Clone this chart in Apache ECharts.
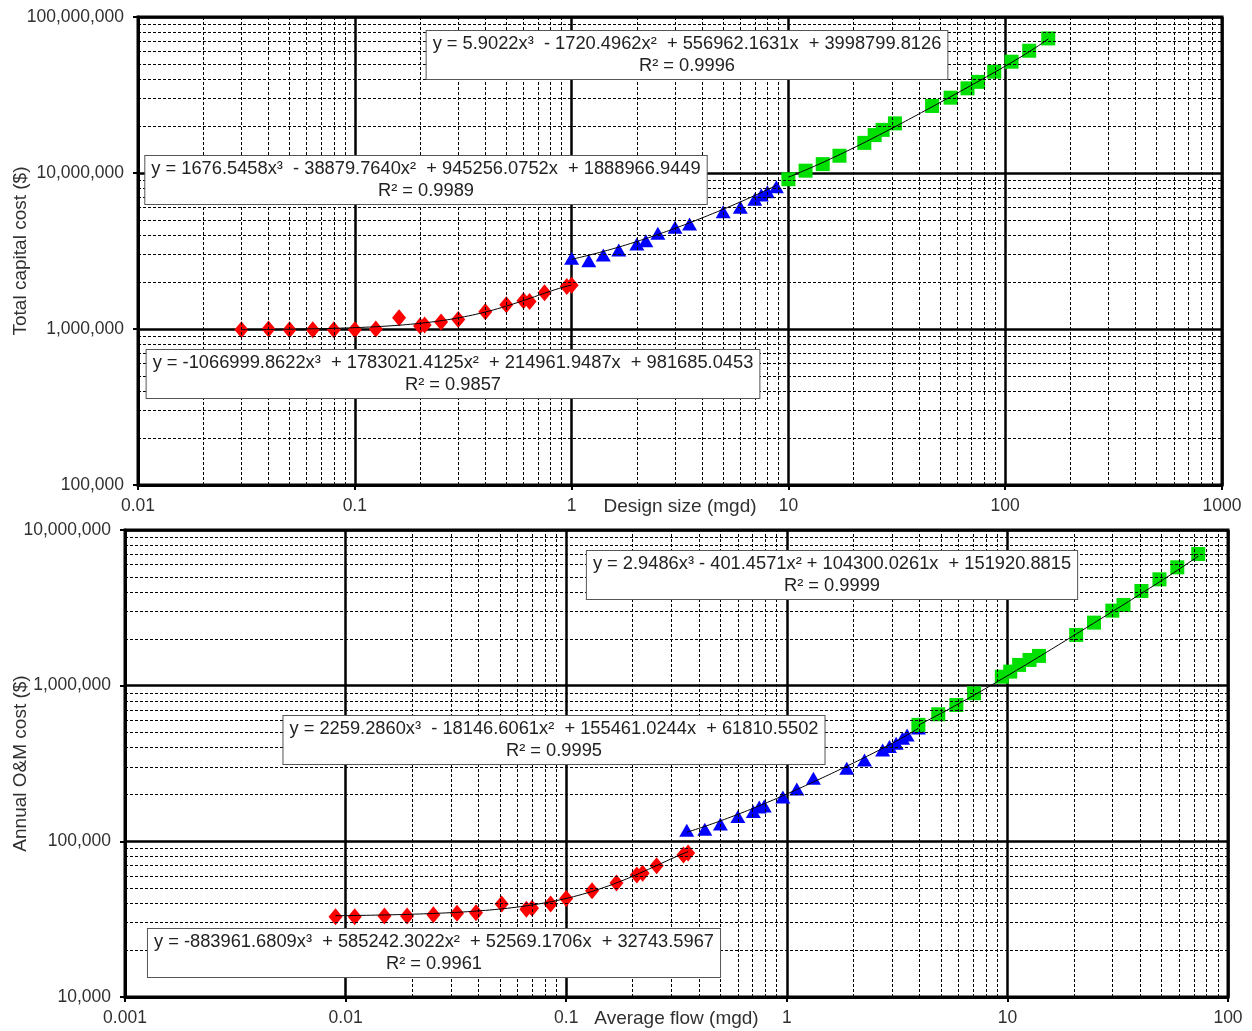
<!DOCTYPE html>
<html>
<head>
<meta charset="utf-8">
<script src="https://cdn.jsdelivr.net/npm/echarts@6/dist/echarts.min.js"></script>
<style>
  html, body { margin: 0; padding: 0; background: #fff; }
  #chart { width: 1252px; height: 1031px; }
</style>
</head>
<body>
<div id="chart"></div>
<script>
// ---- Total capital cost vs design size (mgd) ----
const capRedX = [0.03, 0.04, 0.05, 0.064, 0.08, 0.1, 0.125, 0.16, 0.2, 0.21, 0.25, 0.3, 0.4, 0.5, 0.6, 0.64, 0.75, 0.95, 1.0];
const capRedY = [990000, 1000000, 990000, 990000, 990000, 990000, 1000000, 1180000, 1045000, 1060000, 1110000, 1150000, 1290000, 1430000, 1520000, 1500000, 1710000, 1870000, 1910000];
const capBlueX = [1.0, 1.2, 1.4, 1.65, 2.0, 2.2, 2.5, 3.0, 3.5, 5.0, 6.0, 7.0, 7.5, 8.0, 8.8];
const capBlueY = [2840000, 2740000, 2980000, 3210000, 3510000, 3680000, 4110000, 4490000, 4710000, 5650000, 6030000, 6780000, 7230000, 7590000, 8170000];
const capGreenX = [10, 12, 14.4, 17.2, 22.4, 25, 27.2, 31, 46, 56, 67, 75, 89, 107, 129, 158];
const capGreenY = [9120000, 10350000, 11400000, 12900000, 15600000, 17500000, 18900000, 20800000, 26900000, 30400000, 34900000, 38400000, 44600000, 51700000, 60800000, 72900000];

// cubic trendline coefficients [x^3, x^2, x, const] and R²
const capRedCoef = [-1066999.8622, 1783021.4125, 214961.9487, 981685.0453];
const capBlueCoef = [1676.5458, -38879.7640, 945256.0752, 1888966.9449];
const capGreenCoef = [5.9022, -1720.4962, 556962.1631, 3998799.8126];
const capR2 = ['0.9857', '0.9989', '0.9996'];

// ---- Annual O&M cost vs average flow (mgd) ----
const omRedX = [0.009, 0.011, 0.015, 0.019, 0.025, 0.032, 0.039, 0.051, 0.066, 0.07, 0.085, 0.10, 0.131, 0.169, 0.209, 0.222, 0.257, 0.34, 0.357];
const omRedY = [32800, 32800, 33200, 33200, 33800, 34500, 34800, 39600, 36600, 37200, 39600, 43000, 48100, 54000, 60800, 62400, 69800, 81800, 84000];
const omBlueX = [0.352, 0.425, 0.50, 0.6, 0.705, 0.75, 0.79, 0.96, 1.11, 1.32, 1.87, 2.25, 2.72, 2.92, 3.13, 3.35, 3.51, 3.95];
const omBlueY = [118000, 119700, 129400, 144200, 155300, 166400, 168800, 192800, 217200, 254300, 294900, 333600, 386700, 405900, 426600, 459400, 482300, 534800];
const omGreenX = [3.95, 4.86, 5.87, 7.06, 9.43, 10.3, 11.3, 12.6, 13.9, 20.5, 24.7, 29.9, 33.6, 40.5, 48.9, 58.9, 73.3];
const omGreenY = [560000, 655000, 751000, 894000, 1142000, 1231000, 1359000, 1463000, 1553000, 2118000, 2541000, 3034000, 3300000, 4056000, 4821000, 5758000, 7013000];

const omRedCoef = [-883961.6809, 585242.3022, 52569.1706, 32743.5967];
const omBlueCoef = [2259.2860, -18146.6061, 155461.0244, 61810.5502];
const omGreenCoef = [2.9486, -401.4571, 104300.0261, 151920.8815];
const omR2 = ['0.9961', '0.9995', '0.9999'];

// axis ranges
const capXRange = [0.01, 1000];
const capYRange = [100000, 100000000];
const omXRange = [0.001, 100];
const omYRange = [10000, 10000000];

const FONT = '"Liberation Sans", Arial, sans-serif';
const RED = '#ff0000', BLUE = '#0000ff', GREEN = '#00e000';
const TEXT = '#303030';

function pairs(xs, ys) { return xs.map((x, i) => [x, ys[i]]); }

// evaluate the cubic over the series' x range, sampled evenly in log space
function trend(coef, xs) {
  const lo = Math.log10(Math.min(...xs)), hi = Math.log10(Math.max(...xs));
  const pts = [];
  const n = 80;
  for (let i = 0; i <= n; i++) {
    const x = Math.pow(10, lo + (hi - lo) * i / n);
    pts.push([x, ((coef[0] * x + coef[1]) * x + coef[2]) * x + coef[3]]);
  }
  return pts;
}

function eqText(coef, r2, gap) {
  const t = v => Math.abs(v).toFixed(4);
  const sgn = v => (v < 0 ? '-' : '+');
  return 'y = ' + (coef[0] < 0 ? '-' : '') + t(coef[0]) + 'x³' +
    gap + sgn(coef[1]) + ' ' + t(coef[1]) + 'x²' +
    gap + sgn(coef[2]) + ' ' + t(coef[2]) + 'x' +
    '  ' + sgn(coef[3]) + ' ' + t(coef[3]) +
    '\nR² = ' + r2;
}

// 2..9 subdivisions of each decade
function minorValues(range) {
  const out = [];
  const d0 = Math.round(Math.log10(range[0])), d1 = Math.round(Math.log10(range[1]));
  for (let d = d0; d < d1; d++) {
    for (let m = 2; m <= 9; m++) out.push(Number((m * Math.pow(10, d)).toPrecision(3)));
  }
  return out;
}

function guideSeries(idx, xr, yr) {
  const data = [];
  minorValues(xr).forEach(v => data.push({ xAxis: v }));
  minorValues(yr).forEach(v => data.push({ yAxis: v }));
  return {
    type: 'line', xAxisIndex: idx, yAxisIndex: idx, data: [], z: 1, silent: true,
    markLine: {
      silent: true, symbol: ['none', 'none'], label: { show: false },
      lineStyle: { color: '#000', width: 1, type: [3, 2] },
      emphasis: { disabled: true },
      data: data
    }
  };
}

function scatter(idx, xs, ys, symbol, size, color) {
  return {
    type: 'scatter', xAxisIndex: idx, yAxisIndex: idx, data: pairs(xs, ys),
    symbol: symbol, symbolSize: size, itemStyle: { color: color, opacity: 1 }, z: 3, silent: true
  };
}

function trendSeries(idx, coef, xs) {
  return {
    type: 'line', xAxisIndex: idx, yAxisIndex: idx, data: trend(coef, xs),
    showSymbol: false, symbol: 'none', lineStyle: { color: '#000', width: 1 }, z: 5, silent: true
  };
}

const xFmt = v => String(Number(v.toPrecision(6)));
const yFmt = v => Math.round(v).toLocaleString('en-US');

function xAxis(idx, range, name) {
  return {
    type: 'log', logBase: 10, gridIndex: idx, min: range[0], max: range[1],
    name: name, nameLocation: 'middle', nameGap: 12, nameMoveOverlap: false,
    nameTextStyle: { fontFamily: FONT, fontSize: 19, color: TEXT, verticalAlign: 'top' },
    axisLine: { show: true, lineStyle: { color: '#000', width: 3 } },
    axisTick: { show: true, length: 5, lineStyle: { color: '#000', width: 2 } },
    axisLabel: { fontFamily: FONT, fontSize: 17.5, color: TEXT, margin: 12, formatter: xFmt },
    splitLine: { show: true, lineStyle: { color: '#000', width: 2.5 } },
    minorTick: { show: false }, minorSplitLine: { show: false }
  };
}

function yAxis(idx, range, name, gap) {
  return {
    type: 'log', logBase: 10, gridIndex: idx, min: range[0], max: range[1],
    name: name, nameLocation: 'middle', nameGap: gap, nameRotate: 90, nameMoveOverlap: false,
    nameTextStyle: { fontFamily: FONT, fontSize: 19, color: TEXT },
    axisLine: { show: true, lineStyle: { color: '#000', width: 3 } },
    axisTick: { show: true, length: 5, lineStyle: { color: '#000', width: 2 } },
    axisLabel: { fontFamily: FONT, fontSize: 17.5, color: TEXT, margin: 14, formatter: yFmt },
    splitLine: { show: true, lineStyle: { color: '#000', width: 2.5 } },
    minorTick: { show: false }, minorSplitLine: { show: false }
  };
}

function eqBox(cx, top, text) {
  return {
    type: 'text', x: cx, y: top, z: 100, silent: true,
    style: {
      text: text, align: 'center', verticalAlign: 'top',
      fontFamily: FONT, fontSize: 18.3, lineHeight: 22, fill: '#222',
      backgroundColor: '#fff', borderColor: '#555', borderWidth: 1,
      padding: [2, 6, 2, 6]
    }
  };
}

const gridBase = { show: true, borderColor: '#000', borderWidth: 3, backgroundColor: '#fff', containLabel: false, outerBoundsMode: 'none' };

const chart = echarts.init(document.getElementById('chart'), null, { renderer: 'canvas' });
chart.setOption({
  animation: false,
  backgroundColor: '#fff',
  grid: [
    Object.assign({ left: 138, top: 17, right: 30, bottom: 546 }, gridBase),
    Object.assign({ left: 125, top: 530, right: 24, bottom: 34 }, gridBase)
  ],
  xAxis: [
    xAxis(0, capXRange, 'Design size (mgd)'),
    xAxis(1, omXRange, 'Average flow (mgd)')
  ],
  yAxis: [
    yAxis(0, capYRange, 'Total capital cost ($)', 108),
    yAxis(1, omYRange, 'Annual O&M cost ($)', 95)
  ],
  series: [
    guideSeries(0, capXRange, capYRange),
    guideSeries(1, omXRange, omYRange),
    scatter(0, capRedX, capRedY, 'diamond', [14, 17], RED),
    scatter(0, capBlueX, capBlueY, 'triangle', [15, 13], BLUE),
    scatter(0, capGreenX, capGreenY, 'rect', [14, 14], GREEN),
    trendSeries(0, capRedCoef, capRedX),
    trendSeries(0, capBlueCoef, capBlueX),
    trendSeries(0, capGreenCoef, capGreenX),
    scatter(1, omRedX, omRedY, 'diamond', [14, 17], RED),
    scatter(1, omBlueX, omBlueY, 'triangle', [15, 13], BLUE),
    scatter(1, omGreenX, omGreenY, 'rect', [14, 14], GREEN),
    trendSeries(1, omRedCoef, omRedX),
    trendSeries(1, omBlueCoef, omBlueX),
    trendSeries(1, omGreenCoef, omGreenX)
  ],
  graphic: [
    eqBox(687, 31, eqText(capGreenCoef, capR2[2], '  ')),
    eqBox(426, 156, eqText(capBlueCoef, capR2[1], '  ')),
    eqBox(453, 350, eqText(capRedCoef, capR2[0], '  ')),
    eqBox(832, 551, eqText(omGreenCoef, omR2[2], ' ')),
    eqBox(554, 716, eqText(omBlueCoef, omR2[1], '  ')),
    eqBox(434, 929, eqText(omRedCoef, omR2[0], '  '))
  ]
});
</script>
</body>
</html>
